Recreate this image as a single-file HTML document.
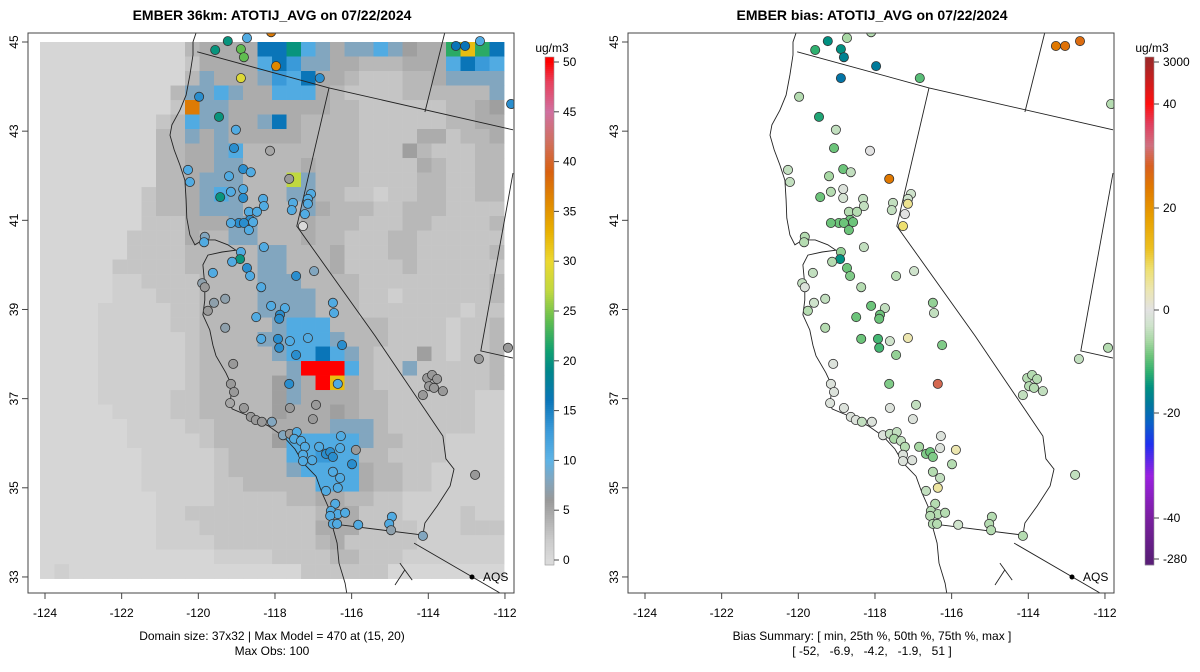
<!DOCTYPE html>
<html><head><meta charset="utf-8"><style>
html,body{margin:0;padding:0;background:#fff;}
svg{display:block;font-family:"Liberation Sans",sans-serif;}
</style></head><body>
<svg id="chart" width="1200" height="672" viewBox="0 0 1200 672" xmlns="http://www.w3.org/2000/svg">
<defs>
<clipPath id="clipL"><rect x="28" y="33" width="486" height="560"/></clipPath>
<clipPath id="clipR"><rect x="628" y="33" width="486" height="560"/></clipPath>
</defs>
<g id="root"></g>
</svg>
<script>
// ---- data ----
const lonTicks=[-124,-122,-120,-118,-116,-114,-112];
const latTicks=[33,35,37,39,41,43,45];
const obsTicks=[0,5,10,15,20,25,30,35,40,45,50];
const biasTicks=[3000,40,20,0,-20,-40,-280];
const gridLon0=-124.13, gridDLon=0.3783, gridLat0=45, gridDLat=0.3253;
const codeVals={a:0.5,c:1.5,d:2.5,e:3.5,f:4.5,g:5.5,m:8,b:11,B:13,D:16,T:20,G:22,Y:27,O:32,o:37,R:50};
const gridRows=[
"aaaaaaaaaaeffffDDTbmfmmbmgffGOGD",
"aaaaaaaaaadffffbDBmmffeeefffbDBb",
"aaaaaaaaaaemfffmBbDffedddeefmmmm",
"aaaaaaaaaemmbmffbbbfeddddeeeeeem",
"aaaaaaaaadommfffffffeeddddddeefg",
"aaaaaaaadebmmffmDfeeeeddddddeeff",
"aaaaaaaaeemfmfffffeeeeddddffdeef",
"aaaaaaaaeeffmbeeeeeeeedddgedddee",
"aaaaaaaaeeffmmeeeefeeeddddfeddee",
"aaaaaaaaeefmmmeeeYmeeeddddeeddee",
"aaaaaaadeefmbmeeemmeeddcddeeddee",
"aaaaaaadeefmmmeeeemfeeeddeeedddd",
"aaaaaaadddfffmmeeefeeedddeedddde",
"aaaaaaddddfeemmeeefeedddeedddddd",
"aaaaaaddddeeeeemmeeefdddeeddddde",
"aaaaadddddeeeeemmeeefddddedddddd",
"aaaaaccddddeeeemmmeeeeddddddddde",
"aaaaacccdddeeeemmmmeeeddcdddddde",
"aaaacccccddeeeemmmmeeedddddddcdd",
"aaaacccccddeeeeembbbeeeeddddcdde",
"aaaaccccccdeeeemmbbbmeeeddddcdde",
"aaaaccccccdeeeeembbDbmedddgdcdde",
"aaaaccccccdeeeeeemRRRbeddmddddde",
"aaaaccccccdeeeeegmfROfedddddddde",
"aaaacccccddeeeeegmffffeeddddddcc",
"aaaaaccccddeeeeegfffgfeeddddddcc",
"aaaaaaccccddeeeeffffmmmeddddddcc",
"aaaaaacccccdeeeegbbbbbmeedddcccc",
"aaaaaaacccccdeeeebbBbbeeddddcccc",
"aaaaaaacccccdeeeembbbbfeeddccccc",
"aaaaaaacccccddeeeeebbbfeeddccccc",
"aaaaaaaaccccdddddeeffeeddccccccc",
"aaaaaaaaccdddddddddeffdddccccdcc",
"aaaaaaaacccddddddddfffddddcccddd",
"aaaaaaaaccccdddddddefdddddcccccc",
"aaaaaaaaaaaaccccddddeedddccccccc",
"acaaaaaaaaaaaaaaaaddddddaaaaaaaa"];
// stations: lon, lat, observed value, bias
const stLon=[-119.23,-118.73,-118.10,-115.34,-112.68,-119.56,-118.89,-118.81,-117.97,-116.83,-118.89,-113.28,-113.04,-112.65,-111.84,-119.98,-119.46,-119.02,-119.07,-118.13,-120.27,-120.22,-119.20,-118.83,-118.63,-117.63,-118.83,-119.15,-119.43,-118.83,-118.31,-118.29,-117.53,-117.56,-117.06,-117.14,-117.14,-117.22,-117.27,-118.68,-118.47,-118.65,-118.57,-118.94,-119.15,-118.81,-118.68,-119.83,-119.85,-118.29,-118.89,-118.91,-119.12,-118.73,-118.65,-119.62,-117.45,-116.98,-119.90,-119.83,-118.36,-119.30,-119.59,-119.75,-118.10,-117.74,-117.87,-117.89,-118.49,-116.49,-116.46,-119.30,-118.36,-117.92,-117.61,-117.14,-117.89,-117.45,-116.25,-119.09,-111.92,-112.68,-117.63,-116.36,-119.15,-119.07,-119.17,-118.81,-117.61,-116.93,-117.01,-118.63,-118.50,-118.34,-118.08,-114.03,-113.90,-113.77,-113.98,-113.85,-114.14,-113.62,-117.79,-117.61,-117.43,-117.50,-117.32,-117.22,-116.85,-116.28,-116.30,-115.89,-117.27,-117.27,-117.03,-116.67,-116.56,-116.49,-115.99,-116.49,-116.30,-116.36,-116.67,-112.78,-116.43,-116.54,-116.36,-116.17,-116.56,-116.49,-116.38,-115.83,-114.95,-115.02,-114.97,-114.14];
const stLat=[45.02,45.09,45.22,45.31,45.31,44.82,44.84,44.66,44.46,44.19,44.19,44.91,44.91,45.02,43.61,43.77,43.32,43.03,42.62,42.56,42.13,41.86,41.99,42.15,42.08,41.93,41.70,41.64,41.52,41.50,41.48,41.32,41.39,41.23,41.59,41.48,41.37,41.14,40.87,41.19,41.19,41.01,40.96,40.94,40.94,40.94,40.78,40.63,40.51,40.40,40.29,40.13,40.07,39.93,39.75,39.82,39.75,39.86,39.59,39.50,39.50,39.24,39.15,38.97,39.08,39.03,38.88,38.79,38.83,39.15,38.92,38.59,38.34,38.34,38.29,38.36,38.14,37.98,38.20,37.78,38.14,37.89,37.33,37.33,37.33,37.15,36.90,36.79,36.79,36.86,36.54,36.59,36.52,36.48,36.48,37.46,37.53,37.44,37.28,37.24,37.08,37.17,36.18,36.21,36.25,36.10,36.05,35.92,35.92,36.16,35.89,35.85,35.74,35.60,35.62,35.76,35.80,35.69,35.53,35.36,35.22,35.00,34.93,35.29,34.64,34.48,34.41,34.44,34.37,34.19,34.19,34.17,34.35,34.19,34.05,33.92];
const stObs=[20,11,37,50,11,20,24,24,36,14,29,16,16,11,14,14,20,11,14,5,11,11,11,14,11,6,11,11,20,14,11,11,11,11,11,11,11,11,0,11,11,14,11,14,11,14,11,8,11,11,11,20,11,14,11,11,14,8,7,6,11,7,7,6,11,11,14,14,11,11,11,7,11,14,11,11,14,14,14,6,6,6,14,11,6,6,5,6,6,6,6,6,6,6,8,6,6,6,6,6,6,6,8,6,11,11,11,11,11,11,11,6,11,11,11,14,14,14,14,11,11,11,11,6,11,11,11,11,11,11,11,11,11,11,7,8];
const stBias=[-15,-6,-5,-40,25,-12,-15,-17,-18,-10,-19,24,25,26,-5,-5,-13,-4,-9,0,-4,-4,-6,-9,-4,24,-1,-5,-9,-2,-4,-4,-4,-4,-3,-3,6,0,8,-5,-5,-9,-9,-9,-9,-9,-9,-5,-5,-4,-7,-15,-5,-9,-8,-4,-5,-3,-4,-1,-5,-4,-3,-5,-9,-4,-9,-9,-9,-7,-4,-5,-9,-11,-3,4,-11,-7,-8,-1,-5,-4,-8,30,-1,-1,-1,-1,-1,-4,-1,-1,-1,-4,-1,-5,-5,-5,-5,-5,-4,-4,-1,-4,-4,-6,-4,-5,-6,-1,-1,4,-1,-1,-1,-8,-9,-8,-5,-5,-4,5,-4,-4,-5,-5,-5,-5,-5,-5,-5,-3,-5,-5,-5,-5];
// basemap outlines (lon/lat)
const coast=[[-120.06,45.2],[-120.14,45],[-120.14,44.71],[-120.22,44.26],[-120.32,43.81],[-120.48,43.47],[-120.69,43.14],[-120.74,42.91],[-120.63,42.58],[-120.48,42.24],[-120.35,41.9],[-120.32,41.46],[-120.3,41.05],[-120.22,40.67],[-120.09,40.45],[-119.88,40.56],[-119.56,40.56],[-119.23,40.45],[-119.02,40.33],[-119.38,40.29],[-119.75,40.22],[-119.88,40],[-119.83,39.55],[-119.83,39.21],[-119.88,38.88],[-119.7,38.54],[-119.62,38.2],[-119.54,37.96],[-119.28,37.58],[-119.12,37.28],[-119.17,36.9],[-119.12,36.77],[-118.68,36.61],[-118.18,36.39],[-117.79,36.16],[-117.48,35.87],[-117.27,35.56],[-116.93,35.26],[-116.77,34.88],[-116.62,34.59],[-116.56,34.37],[-116.49,34.1],[-116.38,33.76],[-116.33,33.31],[-116.17,32.86],[-116.12,32.6]];
const borders=[
[[-120.03,44.78],[-116.59,43.97],[-111.79,43.03]],
[[-116.59,43.97],[-117.43,40.87],[-115.39,38.41],[-113.62,36.16]],
[[-114.09,43.43],[-113.54,45.31]],
[[-111.79,42.06],[-112.63,38.07],[-111.79,37.91]],
[[-113.62,36.16],[-113.54,35.65],[-113.33,35.42],[-113.43,35.04],[-113.77,34.59],[-114.09,34.21],[-114.14,33.94]],
[[-116.3,34.17],[-114.14,33.94]],
[[-114.37,33.76],[-112.13,32.64]],
[[-114.74,33.31],[-114.42,32.93]],
[[-114.87,32.82],[-114.61,33.16]]];

// ---- helpers ----
const NS='http://www.w3.org/2000/svg';
const root=document.getElementById('root');
function el(tag,attrs,parent){const e=document.createElementNS(NS,tag);for(const k in attrs)e.setAttribute(k,attrs[k]);(parent||root).appendChild(e);return e;}
function hex(c){return [parseInt(c.slice(1,3),16),parseInt(c.slice(3,5),16),parseInt(c.slice(5,7),16)];}
function interp(stops,v){if(v<=stops[0][0])return stops[0][1];for(let i=1;i<stops.length;i++){if(v<=stops[i][0]){const a=stops[i-1],b=stops[i];const t=(v-a[0])/(b[0]-a[0]);const A=hex(a[1]),B=hex(b[1]);return 'rgb('+A.map((x,j)=>Math.round(x+(B[j]-x)*t)).join(',')+')';}}return stops[stops.length-1][1];}
const obsStops=[[0,'#dadada'],[2,'#cbcbcb'],[4,'#b2b2b2'],[6,'#999999'],[8,'#82a6bf'],[10,'#5db3e6'],[13,'#3a9ad9'],[16,'#0a75b8'],[19,'#00878a'],[21,'#10a070'],[24,'#60bd50'],[27,'#c0d840'],[30,'#ecd830'],[33,'#e8b000'],[36,'#e08800'],[39,'#d86010'],[42,'#d07060'],[45,'#d070a0'],[48,'#e8405c'],[50,'#ff0000']];
const biasStops=[[-280,'#5a1e78'],[-40,'#7a1fa0'],[-32,'#9a20e0'],[-26,'#2030f0'],[-22,'#0a60c8'],[-18,'#007a9a'],[-15,'#009080'],[-12,'#30b070'],[-9,'#6cc47a'],[-6,'#a8d8a4'],[-3,'#cfe3cc'],[0,'#e2e2e2'],[4,'#ece6b0'],[8,'#eee070'],[12,'#ecc020'],[18,'#e8a000'],[24,'#e07800'],[28,'#d86020'],[32,'#d07080'],[36,'#e04060'],[40,'#ff1010'],[3000,'#a02828']];
const PXD=38.33, PYD=44.58;
function xs(off){return lon=>off+45+(lon+124)*PXD;}
function ys(lat){return 42+(45-lat)*PYD;}
const bTab=[[3000,62],[40,104],[20,208],[0,310],[-20,413],[-40,518],[-280,559]];
function biasY(v){for(let i=1;i<bTab.length;i++){if(v>=bTab[i][0]){const a=bTab[i-1],b=bTab[i];return a[1]+(b[1]-a[1])*(v-a[0])/(b[0]-a[0]);}}return 559;}
function biasInv(y){if(y<=62)return 3000;for(let i=1;i<bTab.length;i++){if(y<=bTab[i][1]){const a=bTab[i-1],b=bTab[i];return a[0]+(b[0]-a[0])*(y-a[1])/(b[1]-a[1]);}}return -280;}

function panel(off,name,title,isBias){
  const X=xs(off);
  const g=el('g',{});
  
  
  const t=el('text',{x:off+272,y:20,'text-anchor':'middle','font-size':14,'font-weight':'bold',fill:'#000'},g);
  t.textContent=title;
  
  
  const plot=el('g',{'clip-path':'url(#'+(isBias?'clipR':'clipL')+')'},g);
  
  
  if(!isBias){
    gridRows.forEach((row,r)=>{for(let c=0;c<row.length;c++){const v=codeVals[row[c]];const lon=gridLon0+c*gridDLon,lat=gridLat0-r*gridDLat;
      const rc=el('rect',{x:X(lon).toFixed(2),y:ys(lat).toFixed(2),width:(gridDLon*PXD+0.4).toFixed(2),height:(gridDLat*PYD+0.4).toFixed(2),fill:interp(obsStops,v)},plot);
      
      }});
  }
  const lines=[coast].concat(borders);
  lines.forEach(l=>{const p=el('polyline',{points:l.map(q=>X(q[0]).toFixed(1)+','+ys(q[1]).toFixed(1)).join(' '),fill:'none',stroke:'#222','stroke-width':0.9},plot);
    
    });
  for(let i=0;i<stLon.length;i++){
    const v=isBias?stBias[i]:stObs[i];
    const c=el('circle',{cx:X(stLon[i]).toFixed(1),cy:ys(stLat[i]).toFixed(1),r:4.6,fill:isBias?interp(biasStops,v):interp(obsStops,v),stroke:'#333','stroke-width':0.8},plot);
    
    
  }
  const ad=el('circle',{cx:off+472,cy:577,r:2.5,fill:'#000'},g);
  
  
  const at=el('text',{x:off+483,y:581,'font-size':12,fill:'#000'},g);
  at.textContent='AQS';
  
  
  const box=el('rect',{x:off+28,y:33,width:486,height:560,fill:'none',stroke:'#444','stroke-width':1},g);
  
  
  lonTicks.forEach(v=>{const x=X(v);el('line',{x1:x,x2:x,y1:593,y2:599,stroke:'#444'},g);
    const tx=el('text',{x:x,y:617,'text-anchor':'middle','font-size':12,fill:'#000'},g);tx.textContent=v;
    
    });
  latTicks.forEach(v=>{const y=ys(v);el('line',{x1:off+28,x2:off+22,y1:y,y2:y,stroke:'#444'},g);
    const tx=el('text',{x:off+18,y:y,'text-anchor':'middle','font-size':12,fill:'#000',transform:'rotate(-90 '+(off+18)+' '+y+')'},g);tx.textContent=v;
    
    });
  const cbx=off+545;
  const cb=el('g',{},g);
  
  
  for(let y=57;y<565;y+=2){
    const v=isBias?biasInv(y+1):(560-(y+1))/9.96;
    el('rect',{x:cbx,y:y,width:9,height:2.3,fill:isBias?interp(biasStops,v):interp(obsStops,v)},cb);
  }
  el('rect',{x:cbx,y:57,width:9,height:508,fill:'none',stroke:'#999','stroke-width':0.6},cb);
  const u=el('text',{x:cbx+7,y:52,'text-anchor':'middle','font-size':12,fill:'#000'},g);u.textContent='ug/m3';
  
  
  (isBias?biasTicks:obsTicks).forEach(v=>{const y=isBias?biasY(v):560-v*9.96;
    el('line',{x1:cbx+9,x2:cbx+14,y1:y,y2:y,stroke:'#444'},cb);
    const tx=el('text',{x:cbx+18,y:y+4,'font-size':12,fill:'#000'},cb);tx.textContent=v;
    
    });
}
panel(0,'model-panel','EMBER 36km: ATOTIJ_AVG on 07/22/2024',false);
panel(600,'bias-panel','EMBER bias: ATOTIJ_AVG on 07/22/2024',true);
function foot(x,y,s,n){const t=el('text',{x:x,y:y,'text-anchor':'middle','font-size':12,fill:'#000',style:'white-space:pre'});t.textContent=s;
  
  }
foot(272,640,'Domain size: 37x32 | Max Model = 470 at (15, 20)','domain-summary');
foot(272,655,'Max Obs: 100','max-obs');
foot(872,640,'Bias Summary: [ min, 25th %, 50th %, 75th %, max ]','bias-summary');
foot(872,655,'[ -52,   -6.9,   -4.2,   -1.9,   51 ]','bias-summary-values');
</script>
</body></html>
